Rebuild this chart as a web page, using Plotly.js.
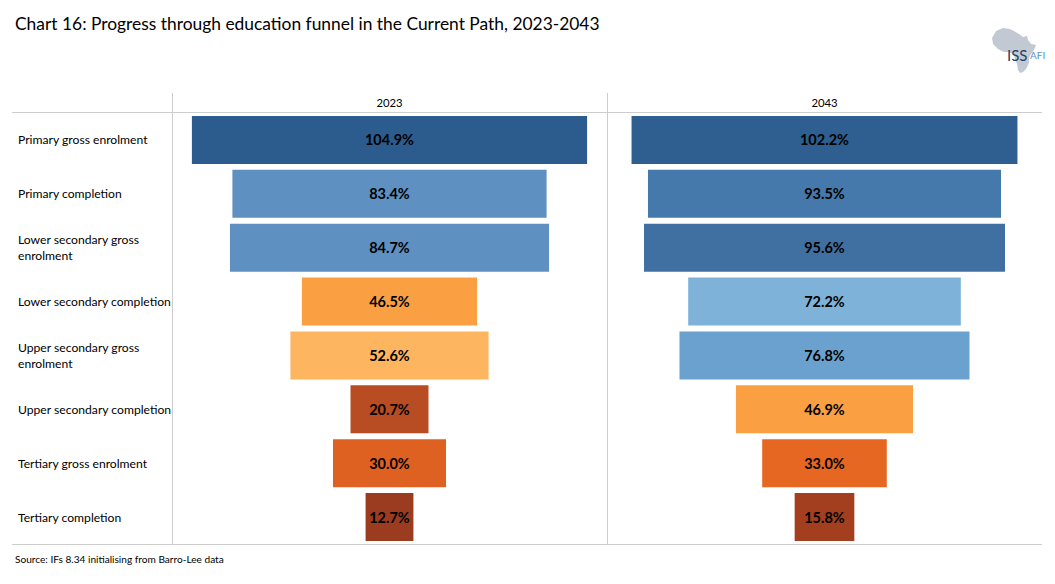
<!DOCTYPE html>
<html><head><meta charset="utf-8">
<script src="https://cdn.plot.ly/plotly-3.0.0.min.js"></script>
<style>html,body{margin:0;padding:0;background:#fff}</style></head>
<body><div id="chart" style="width:1055px;height:584px"></div>
<script>
const categories = ["Primary gross enrolment","Primary completion","Lower secondary gross<br>enrolment","Lower secondary completion","Upper secondary gross<br>enrolment","Upper secondary completion","Tertiary gross enrolment","Tertiary completion"];
const values2023 = [104.9,83.4,84.7,46.5,52.6,20.7,30.0,12.7];
const values2043 = [102.2,93.5,95.6,72.2,76.8,46.9,33.0,15.8];
const colors2023 = ["#2C5C8E","#5E91C1","#5E91C1","#FBA042","#FDB55F","#B84C23","#DE6122","#9B3B20"];
const colors2043 = ["#2E5F90","#4679AB","#406FA2","#7FB2D9","#6BA1CE","#FBA042","#E66721","#A33E1F"];
const W=1055,H=584;
const FONT="Lato, Carlito, sans-serif";
const px=x=>x/W, py=y=>1-y/H;
function trace(vals,cols,xa){return {type:"bar",orientation:"h",y:categories,x:vals,base:vals.map(v=>-v/2),
  xaxis:xa,yaxis:"y",marker:{color:cols,line:{width:0}},width:0.889,
  text:vals.map(v=>v.toFixed(1)+"%"),textposition:"inside",insidetextanchor:"middle",constraintext:"none",
  textangle:0,textfont:{family:FONT,size:14.5,color:"#000",weight:700},hoverinfo:"skip",showlegend:false};}
const xcommon={range:[-57.6,57.6],showgrid:false,zeroline:false,showline:false,side:"top",anchor:"y",ticklabelstandoff:3,
  tickmode:"array",tickvals:[0],ticks:"",tickfont:{family:FONT,size:11.3,color:"#000"},fixedrange:true};
const africa="M996,31 L1003,28 L1010,29 L1014,31 L1019,34 L1023,37 L1027,36 L1028,40 L1031,44 L1036,45 L1034,50 L1031,54 L1029,58 L1029,63 L1026,69 L1023,72 L1020,73 L1018,70 L1017,64 L1015,59 L1014,54 L1009,52 L1004,52 L998,49 L993,44 L992,38 Z";
const seg=(x0,y0,x1,y1)=>({type:"line",xref:"paper",yref:"paper",x0:px(x0),x1:px(x1),y0:py(y0),y1:py(y1),line:{color:"#CDCDCD",width:1}});
const layout={width:W,height:H,margin:{l:0,r:0,t:0,b:0},paper_bgcolor:"#fff",plot_bgcolor:"rgba(0,0,0,0)",
  font:{family:FONT,color:"#000"},showlegend:false,bargap:0.11,
  title:{text:"Chart 16: Progress through education funnel in the Current Path, 2023-2043",x:px(15),xanchor:"left",xref:"paper",y:py(24),yanchor:"middle",font:{family:FONT,size:17.4,color:"#000"}},
  xaxis:Object.assign({},xcommon,{domain:[px(172.5),px(606.5)],ticktext:["2023"]}),
  xaxis2:Object.assign({},xcommon,{domain:[px(607),px(1042)],ticktext:["2043"]}),
  yaxis:{domain:[py(544),py(113)],autorange:"reversed",showticklabels:false,ticks:"",showgrid:false,zeroline:false,showline:false,fixedrange:true},
  shapes:[seg(12,112.5,1042,112.5),seg(12,544.5,1042,544.5),seg(172.5,93,172.5,544.5),seg(607.5,93,607.5,544.5),
    {type:"path",xref:"paper",yref:"paper",path:africa.replace(/(\d+),(\d+)/g,(m,a,b)=>px(+a)+","+py(+b)),fillcolor:"#C3C9D3",line:{width:0},layer:"below"},
    seg(1027.5,47,1027.5,61)],
  annotations:categories.map(c=>({text:c,xref:"paper",yref:"y",x:px(16),y:c,xanchor:"left",yanchor:"middle",align:"left",showarrow:false,font:{family:FONT,size:12.15,color:"#000"}}))
  .concat([
   {text:"Source: IFs 8.34 initialising from Barro-Lee data",xref:"paper",yref:"paper",x:px(13),y:py(559),xanchor:"left",yanchor:"middle",showarrow:false,font:{family:FONT,size:10.1,color:"#000"}},
   {text:"ISS",xref:"paper",yref:"paper",x:px(1005),y:py(55),xanchor:"left",yanchor:"middle",showarrow:false,font:{family:FONT,size:15,color:"#1F3F66"}},
   {text:"AFI",xref:"paper",yref:"paper",x:px(1028),y:py(55),xanchor:"left",yanchor:"middle",showarrow:false,font:{family:FONT,size:10,color:"#5E91C1"}}
  ])};
Plotly.newPlot("chart",[trace(values2023,colors2023,"x"),trace(values2043,colors2043,"x2")],layout,{displayModeBar:false,staticPlot:true});
</script></body></html>
